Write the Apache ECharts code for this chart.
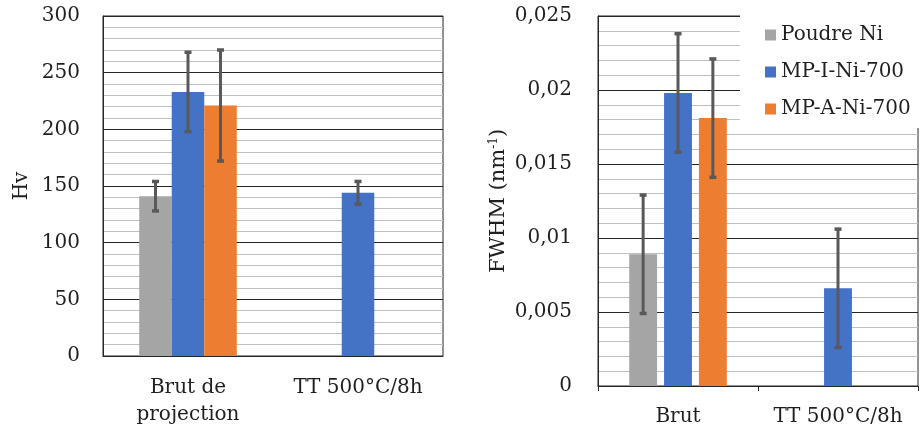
<!DOCTYPE html>
<html>
<head>
<meta charset="utf-8">
<script src="https://cdn.jsdelivr.net/npm/echarts@6/dist/echarts.min.js"></script>
<style>
html,body{margin:0;padding:0;background:#fff;}
#c{width:922px;height:434px;}
</style>
</head>
<body>
<div id="c"></div>
<script>
// ---- Data ----
var seriesNames = ['Poudre Ni', 'MP-I-Ni-700', 'MP-A-Ni-700'];
var catsHv = ['Brut de\nprojection', 'TT 500°C/8h'];
var catsFwhm = ['Brut', 'TT 500°C/8h'];

var hvPoudre = [141, null];
var hvMPI = [233, 144];
var hvMPA = [221, null];
var hvPoudreErr = [13, null];
var hvMPIErr = [35, 10];
var hvMPAErr = [49, null];

var fwhmPoudre = [0.0089, null];
var fwhmMPI = [0.0198, 0.0066];
var fwhmMPA = [0.0181, null];
var fwhmPoudreErr = [0.004, null];
var fwhmMPIErr = [0.004, 0.004];
var fwhmMPAErr = [0.004, null];

var hvTicks = {min: 0, max: 300, interval: 50};
var fwhmTicks = {min: 0, max: 0.025, interval: 0.005};

// ---- Styles ----
var colors = ['#A5A5A5', '#4472C4', '#ED7D31'];
var FONT = 'DejaVu Serif';
var txt = '#1f1f1f';
var errColor = '#595959';

var chart = echarts.init(document.getElementById('c'), null, {renderer: 'canvas'});

function errSeries(name, gridIdx, idx, vals, errs, catGap, barGap) {
  var data = [];
  for (var i = 0; i < vals.length; i++) {
    if (vals[i] != null && errs[i] != null) data.push([i, vals[i] - errs[i], vals[i] + errs[i]]);
  }
  return {
    type: 'custom', name: name, xAxisIndex: gridIdx, yAxisIndex: gridIdx, z: 5,
    silent: true,
    renderItem: function (params, api) {
      var band = api.size([1, 0])[0];
      var n = 3;
      var bw = band * (1 - catGap) / (n + (n - 1) * barGap);
      var off = (idx - (n - 1) / 2) * bw * (1 + barGap);
      var lo = api.coord([api.value(0), api.value(1)]);
      var hi = api.coord([api.value(0), api.value(2)]);
      var x = lo[0] + off;
      var cap = 3.5;
      var st = {stroke: errColor, lineWidth: 3};
      var stc = {stroke: errColor, lineWidth: 3.5};
      return {type: 'group', children: [
        {type: 'line', shape: {x1: x, y1: lo[1], x2: x, y2: hi[1]}, style: st},
        {type: 'line', shape: {x1: x - cap, y1: lo[1], x2: x + cap, y2: lo[1]}, style: stc},
        {type: 'line', shape: {x1: x - cap, y1: hi[1], x2: x + cap, y2: hi[1]}, style: stc}
      ]};
    },
    data: data
  };
}

var gapL = 0.426, barGapL = 0;
var gapR = 0.39, barGapR = 0.25;

function bar(name, gridIdx, data, color, catGap, barGap) {
  return {
    type: 'bar', name: name, xAxisIndex: gridIdx, yAxisIndex: gridIdx,
    data: data, itemStyle: {color: color},
    barCategoryGap: (catGap * 100) + '%', barGap: (barGap * 100) + '%',
    silent: true
  };
}

var option = {
  animation: false,
  backgroundColor: '#fff',
  textStyle: {fontFamily: FONT},
  grid: [
    {left: 103, top: 16, width: 340, height: 340, show: true, borderColor: '#262626', borderWidth: 1, backgroundColor: 'transparent'},
    {left: 598, top: 16, width: 320, height: 370, show: true, borderColor: '#262626', borderWidth: 1, backgroundColor: 'transparent'}
  ],
  legend: {
    orient: 'vertical', left: 740, top: 0,
    padding: [23, 10, 7, 25],
    backgroundColor: '#fff',
    itemWidth: 11, itemHeight: 11, itemGap: 13,
    icon: 'rect',
    data: seriesNames,
    textStyle: {fontFamily: FONT, fontSize: 20, color: txt, lineHeight: 24},
    z: 10
  },
  xAxis: [
    {type: 'category', gridIndex: 0, data: catsHv,
     axisLine: {lineStyle: {color: '#262626', width: 1}},
     axisTick: {show: false},
     axisLabel: {interval: 0, fontFamily: FONT, fontSize: 20, color: txt, margin: 18, lineHeight: 27}},
    {type: 'category', gridIndex: 1, data: catsFwhm,
     axisLine: {lineStyle: {color: '#262626', width: 1}},
     axisTick: {show: true, interval: 0, length: 5, lineStyle: {color: '#262626'}},
     axisLabel: {interval: 0, hideOverlap: false, fontFamily: FONT, fontSize: 20, color: txt, margin: 17, lineHeight: 27}}
  ],
  yAxis: [
    {type: 'value', gridIndex: 0, min: hvTicks.min, max: hvTicks.max, interval: hvTicks.interval,
     name: 'Hv', nameLocation: 'middle', nameGap: 71,
     nameTextStyle: {fontFamily: FONT, fontSize: 20, color: txt},
     axisLine: {show: true, lineStyle: {color: '#262626'}},
     axisTick: {show: false},
     axisLabel: {fontFamily: FONT, fontSize: 20, color: txt, margin: 23},
     splitLine: {show: true, lineStyle: {color: '#262626', width: 1}},
     minorTick: {show: false, splitNumber: 5},
     minorSplitLine: {show: true, lineStyle: {color: '#bfbfbf', width: 1}}},
    {type: 'value', gridIndex: 1, min: fwhmTicks.min, max: fwhmTicks.max, interval: fwhmTicks.interval,
     name: '{a|FWHM (nm}{s|-1}{a|)}', nameLocation: 'middle', nameGap: 88,
     nameTextStyle: {fontFamily: FONT, fontSize: 21, color: txt,
       rich: {a: {fontFamily: FONT, fontSize: 21, color: txt},
              s: {fontFamily: FONT, fontSize: 12, color: txt, verticalAlign: 'top', padding: [0, 0, 10, 0]}}},
     axisLine: {show: true, lineStyle: {color: '#262626'}},
     axisTick: {show: false},
     axisLabel: {fontFamily: FONT, fontSize: 20, color: txt, margin: 26,
       formatter: function (v) { return String(+v.toFixed(3)).replace('.', ','); }},
     splitLine: {show: true, lineStyle: {color: '#262626', width: 1}},
     minorTick: {show: false, splitNumber: 5},
     minorSplitLine: {show: true, lineStyle: {color: '#bfbfbf', width: 1}}}
  ],
  series: [
    bar(seriesNames[0], 0, hvPoudre, colors[0], gapL, barGapL),
    bar(seriesNames[1], 0, hvMPI, colors[1], gapL, barGapL),
    bar(seriesNames[2], 0, hvMPA, colors[2], gapL, barGapL),
    bar(seriesNames[0], 1, fwhmPoudre, colors[0], gapR, barGapR),
    bar(seriesNames[1], 1, fwhmMPI, colors[1], gapR, barGapR),
    bar(seriesNames[2], 1, fwhmMPA, colors[2], gapR, barGapR),
    errSeries(seriesNames[0], 0, 0, hvPoudre, hvPoudreErr, gapL, barGapL),
    errSeries(seriesNames[1], 0, 1, hvMPI, hvMPIErr, gapL, barGapL),
    errSeries(seriesNames[2], 0, 2, hvMPA, hvMPAErr, gapL, barGapL),
    errSeries(seriesNames[0], 1, 0, fwhmPoudre, fwhmPoudreErr, gapR, barGapR),
    errSeries(seriesNames[1], 1, 1, fwhmMPI, fwhmMPIErr, gapR, barGapR),
    errSeries(seriesNames[2], 1, 2, fwhmMPA, fwhmMPAErr, gapR, barGapR)
  ]
};
chart.setOption(option);
</script>
</body>
</html>
